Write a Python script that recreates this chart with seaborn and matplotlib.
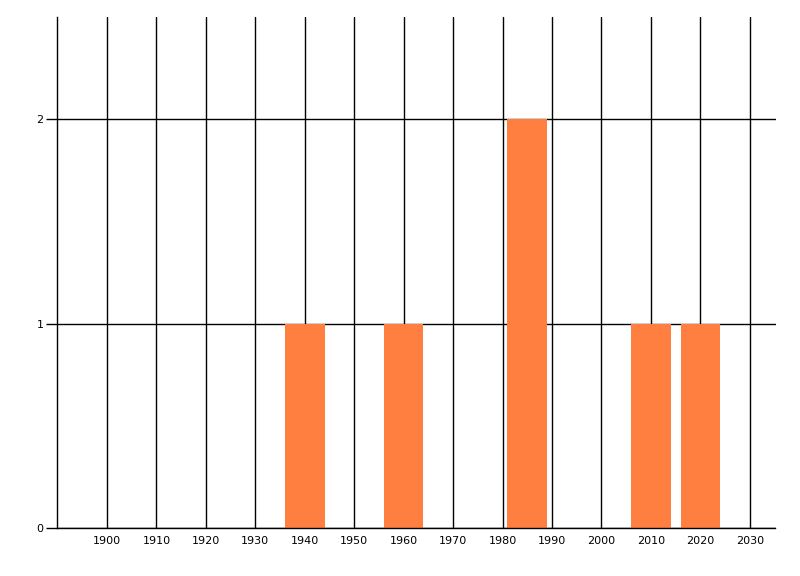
import matplotlib
matplotlib.use("Agg")
import matplotlib.pyplot as plt
import seaborn as sns
import pandas as pd

years = [1940, 1960, 1985, 2010, 2020]
counts = [1, 1, 2, 1, 1]
x_ticks = [1900, 1910, 1920, 1930, 1940, 1950, 1960, 1970, 1980, 1990, 2000, 2010, 2020, 2030]
y_ticks = [0, 1, 2]

df = pd.DataFrame({"year": years, "count": counts})

sns.set_style("white")
plt.rcParams['font.family'] = ['DejaVu Sans']

fig = plt.figure(figsize=(8, 5.76), dpi=100)
ax = fig.add_axes([57.5 / 800, 48 / 576, 718 / 800, 511 / 576])

sns.barplot(data=df, x="year", y="count", native_scale=True, width=0.8,
            color="#FF7F41", saturation=1, ax=ax, zorder=3, linewidth=0,
            edgecolor="none")

ax.set_xlim(1890, 2035.2)
ax.set_ylim(0, 2.5)
ax.set_xticks(x_ticks)
ax.set_xticklabels([str(t) for t in x_ticks], fontsize=8)
ax.set_yticks(y_ticks)
ax.set_yticklabels([str(t) for t in y_ticks], fontsize=8)
ax.set_xlabel("")
ax.set_ylabel("")

ax.grid(True, color="black", linewidth=1, zorder=0)
ax.set_axisbelow(True)
for s in ["top", "right"]:
    ax.spines[s].set_visible(False)
for s in ["left", "bottom"]:
    ax.spines[s].set_color("black")
    ax.spines[s].set_linewidth(1)
    ax.spines[s].set_zorder(4)

ax.tick_params(axis="x", length=0, pad=6, colors="black")
ax.tick_params(axis="y", length=8, width=1, pad=2, colors="black", left=True)

fig.savefig("out.png", dpi=100)
